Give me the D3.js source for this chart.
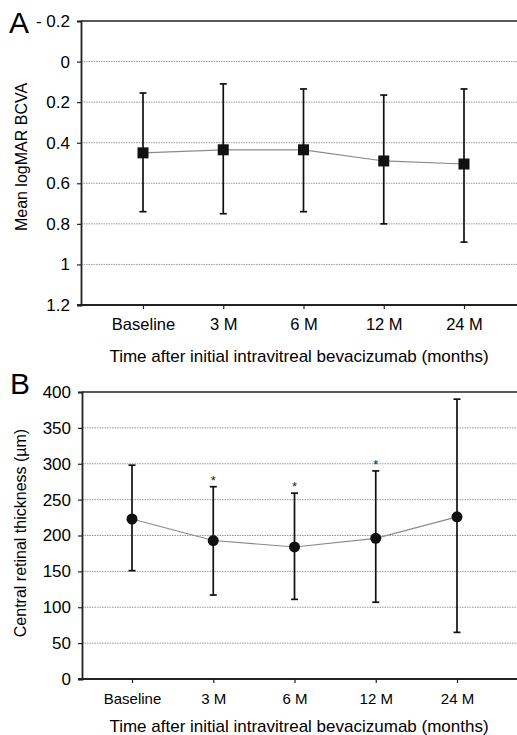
<!DOCTYPE html>
<html>
<head>
<meta charset="utf-8">
<script src="https://cdn.jsdelivr.net/npm/d3@7"></script>
<style>
  html, body { margin: 0; padding: 0; background: #fff; }
  svg { display: block; font-family: "Liberation Sans", Arial, sans-serif; }
</style>
</head>
<body>
<div id="chart"></div>
<script>
// Data
const categories = ['Baseline', '3 M', '6 M', '12 M', '24 M'];

// Panel A: mean logMAR BCVA with error bars
const bcvaMean = [0.45, 0.435, 0.435, 0.49, 0.505];
const bcvaTop = [0.155, 0.11, 0.135, 0.165, 0.135];
const bcvaBottom = [0.74, 0.75, 0.74, 0.80, 0.89];
const bcvaTicks = [-0.2, 0, 0.2, 0.4, 0.6, 0.8, 1, 1.2];

// Panel B: central retinal thickness (µm)
const crtMean = [223, 193, 184, 196, 226];
const crtHigh = [298, 268, 259, 290, 390];
const crtLow = [151, 117, 111, 107, 65];
const crtSignificant = [false, true, true, true, false];
const crtTicks = [0, 50, 100, 150, 200, 250, 300, 350, 400];

const W = 517, H = 735;
const xTitle = 'Time after initial intravitreal bevacizumab (months)';

const svg = d3.select('#chart').append('svg')
  .attr('width', W)
  .attr('height', H);

function drawPanel(p) {
  const g = svg.append('g');
  const x = d3.scalePoint().domain(categories).range(p.xRange);
  const y = d3.scaleLinear().domain(p.domain).range([p.bottom, p.top]);
  if (p.inverted) y.range([p.top, p.bottom]);

  // dotted gridlines
  g.selectAll('.grid')
    .data(p.ticks.slice(1, -1))
    .join('line')
    .attr('x1', p.left).attr('x2', W)
    .attr('y1', d => y(d)).attr('y2', d => y(d))
    .attr('stroke', '#9a9a9a')
    .attr('stroke-width', 1)
    .attr('stroke-dasharray', '1.5 1');

  // top frame line
  g.append('line')
    .attr('x1', p.left).attr('x2', W)
    .attr('y1', p.top).attr('y2', p.top)
    .attr('stroke', '#222').attr('stroke-width', 1.6);

  // y axis
  const yAxis = g.append('g')
    .attr('transform', `translate(${p.left},0)`)
    .call(d3.axisLeft(y).tickValues(p.ticks).tickSize(4).tickPadding(7).tickFormat(p.fmt));
  yAxis.select('.domain').attr('stroke', '#222').attr('stroke-width', 1.8);
  yAxis.selectAll('.tick line').attr('stroke', '#222').attr('stroke-width', 1.2);
  yAxis.selectAll('.tick text')
    .attr('font-size', p.yFont).attr('fill', '#000')
    .attr('font-family', '"Liberation Sans", Arial, sans-serif');

  // x axis
  const bottomY = p.inverted ? p.bottom : y(p.domain[0]);
  g.append('line')
    .attr('x1', p.left - 4).attr('x2', W)
    .attr('y1', bottomY).attr('y2', bottomY)
    .attr('stroke', '#222').attr('stroke-width', 1.8);
  const xAxis = g.append('g')
    .attr('transform', `translate(0,${bottomY})`)
    .call(d3.axisBottom(x).tickSize(4).tickPadding(p.xPad));
  xAxis.select('.domain').remove();
  xAxis.selectAll('.tick line').attr('stroke', '#222').attr('stroke-width', 1.2);
  xAxis.selectAll('.tick text')
    .attr('font-size', p.xFont).attr('fill', '#000')
    .attr('font-family', '"Liberation Sans", Arial, sans-serif');

  // axis titles
  g.append('text')
    .attr('x', p.xTitlePos[0]).attr('y', p.xTitlePos[1])
    .attr('text-anchor', 'middle')
    .attr('font-size', 17).attr('fill', '#000')
    .text(xTitle);
  g.append('text')
    .attr('transform', `translate(${p.yTitlePos[0]},${p.yTitlePos[1]}) rotate(-90)`)
    .attr('text-anchor', 'middle')
    .attr('font-size', 16).attr('fill', '#000')
    .text(p.yTitle);

  // panel letter
  g.append('text')
    .attr('x', p.letterPos[0]).attr('y', p.letterPos[1])
    .attr('font-size', 30).attr('fill', '#000')
    .text(p.letter);

  const rows = categories.map((c, i) => ({
    c, mean: p.mean[i], hi: p.hi[i], lo: p.lo[i], sig: p.sig ? p.sig[i] : false
  }));

  // connecting line
  g.append('path')
    .datum(rows)
    .attr('fill', 'none')
    .attr('stroke', '#8a8a8a')
    .attr('stroke-width', 1.2)
    .attr('d', d3.line().x(d => x(d.c)).y(d => y(d.mean)));

  // error bars
  const eb = g.selectAll('.eb').data(rows).join('g');
  eb.append('line')
    .attr('x1', d => x(d.c)).attr('x2', d => x(d.c))
    .attr('y1', d => y(d.hi)).attr('y2', d => y(d.lo))
    .attr('stroke', '#111').attr('stroke-width', 1.7);
  [d => d.hi, d => d.lo].forEach(acc => {
    eb.append('line')
      .attr('x1', d => x(d.c) - 3.5).attr('x2', d => x(d.c) + 3.5)
      .attr('y1', d => y(acc(d))).attr('y2', d => y(acc(d)))
      .attr('stroke', '#111').attr('stroke-width', 1.7);
  });

  // markers
  if (p.marker === 'square') {
    g.selectAll('.pt').data(rows).join('rect')
      .attr('x', d => x(d.c) - 5.5).attr('y', d => y(d.mean) - 5.5)
      .attr('width', 11).attr('height', 11)
      .attr('fill', '#111');
  } else {
    g.selectAll('.pt').data(rows).join('circle')
      .attr('cx', d => x(d.c)).attr('cy', d => y(d.mean))
      .attr('r', 5.5)
      .attr('fill', '#111');
  }

  // significance marks
  g.selectAll('.sig').data(rows.filter(d => d.sig)).join('text')
    .attr('x', d => x(d.c)).attr('y', d => y(d.hi) - 2)
    .attr('text-anchor', 'middle')
    .attr('font-size', 13).attr('fill', '#222')
    .text('*');
}

drawPanel({
  letter: 'A', letterPos: [9, 33],
  left: 81, top: 21, bottom: 305, xRange: [143, 464],
  domain: [-0.2, 1.2], inverted: true, ticks: bcvaTicks,
  fmt: d => d === 0 ? '0' : (d < 0 ? '- ' + Math.abs(d) : String(d)),
  yFont: 17, xFont: 16.5, xPad: 9,
  mean: bcvaMean, hi: bcvaTop, lo: bcvaBottom,
  marker: 'square',
  yTitle: 'Mean logMAR BCVA', yTitlePos: [27, 157],
  xTitlePos: [299, 362]
});

drawPanel({
  letter: 'B', letterPos: [10, 394],
  left: 82, top: 392, bottom: 679, xRange: [132, 457],
  domain: [0, 400], inverted: false, ticks: crtTicks,
  fmt: d => String(d),
  yFont: 17, xFont: 15, xPad: 10,
  mean: crtMean, hi: crtHigh, lo: crtLow, sig: crtSignificant,
  marker: 'circle',
  yTitle: 'Central retinal thickness (\u00b5m)', yTitlePos: [26, 533],
  xTitlePos: [299, 732]
});
</script>
</body>
</html>
